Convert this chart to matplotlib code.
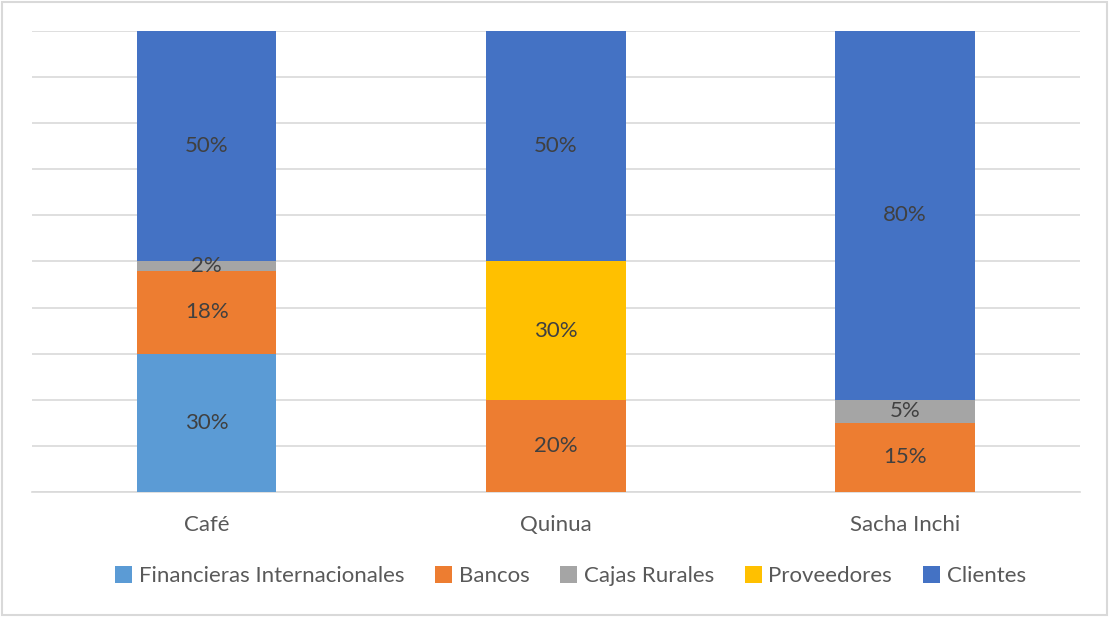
import matplotlib.pyplot as plt
from matplotlib.patches import Rectangle

categories = ['Café', 'Quinua', 'Sacha Inchi']
series = ['Financieras Internacionales', 'Bancos', 'Cajas Rurales', 'Proveedores', 'Clientes']
values = {
    'Financieras Internacionales': [30, 0, 0],
    'Bancos': [18, 20, 15],
    'Cajas Rurales': [2, 0, 5],
    'Proveedores': [0, 30, 0],
    'Clientes': [50, 50, 80],
}
colors = ['#5B9BD5', '#ED7D31', '#A5A5A5', '#FFC000', '#4472C4']

plt.rcParams['font.family'] = ['Lato', 'DejaVu Sans']

fig = plt.figure(figsize=(11.1, 6.17), dpi=100)
ax = fig.add_axes([0.0288, 0.2026, 0.944, 0.7472])

x = list(range(len(categories)))
bottom = [0] * len(categories)
for name, col in zip(series, colors):
    vals = values[name]
    ax.bar(x, vals, 0.4, bottom=bottom, color=col, label=name, zorder=3)
    for i, v in enumerate(vals):
        if v > 0:
            ax.text(i, bottom[i] + v / 2, f'{v}%', ha='center', va='center',
                    fontsize=16, color='#404040', zorder=4)
    bottom = [b + v for b, v in zip(bottom, vals)]

ax.set_xlim(-0.5, 2.5)
ax.set_ylim(0, 100)
ax.set_yticks(range(0, 101, 10))
ax.yaxis.grid(True, color='#D9D9D9', linewidth=1.2, zorder=0)
ax.tick_params(left=False, labelleft=False, bottom=False)
ax.set_xticks(x)
ax.set_xticklabels(categories, fontsize=16, color='#595959')
ax.tick_params(axis='x', pad=13)
for s in ['top', 'right', 'left']:
    ax.spines[s].set_visible(False)
ax.spines['bottom'].set_color('#D9D9D9')
ax.spines['bottom'].set_linewidth(1.2)

fig.legend(loc='center', bbox_to_anchor=(0.514, 0.066), ncol=5, frameon=False,
           fontsize=16, labelcolor='#595959', handlelength=0.75, handleheight=0.75,
           handletextpad=0.3, columnspacing=1.4)

fig.patches.append(Rectangle((0.002, 0.004), 0.995, 0.992, transform=fig.transFigure,
                             fill=False, edgecolor='#D9D9D9', linewidth=1.5))

fig.savefig('out.png', dpi=100)
